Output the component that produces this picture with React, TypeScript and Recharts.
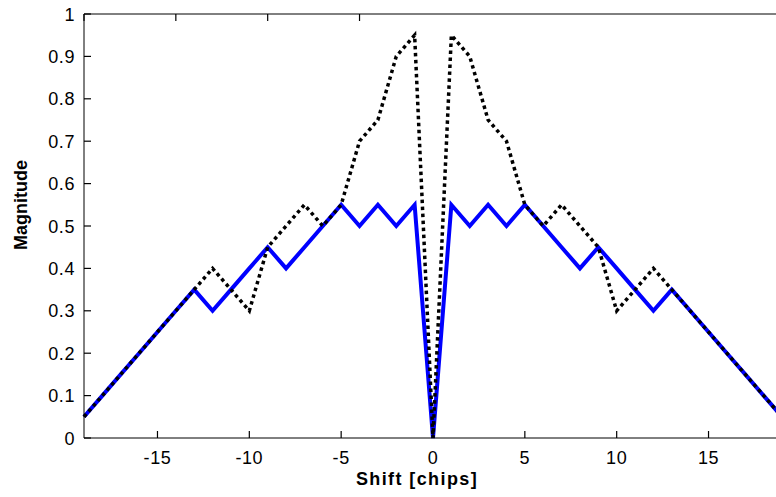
import { LineChart, Line, XAxis, YAxis } from "recharts";

const shifts = [
  -19, -18, -17, -16, -15, -14, -13, -12, -11, -10, -9, -8, -7, -6, -5, -4, -3,
  -2, -1, 0, 1, 2, 3, 4, 5, 6, 7, 8, 9, 10, 11, 12, 13, 14, 15, 16, 17, 18, 19,
];

const blueMag = [
  0.05, 0.1, 0.15, 0.2, 0.25, 0.3, 0.35, 0.3, 0.35, 0.4, 0.45, 0.4, 0.45, 0.5,
  0.55, 0.5, 0.55, 0.5, 0.55, 0, 0.55, 0.5, 0.55, 0.5, 0.55, 0.5, 0.45, 0.4,
  0.45, 0.4, 0.35, 0.3, 0.35, 0.3, 0.25, 0.2, 0.15, 0.1, 0.05,
];

const dottedMag = [
  0.05, 0.1, 0.15, 0.2, 0.25, 0.3, 0.35, 0.4, 0.35, 0.3, 0.45, 0.5, 0.55, 0.5,
  0.55, 0.7, 0.75, 0.9, 0.95, 0, 0.95, 0.9, 0.75, 0.7, 0.55, 0.5, 0.55, 0.5,
  0.45, 0.3, 0.35, 0.4, 0.35, 0.3, 0.25, 0.2, 0.15, 0.1, 0.05,
];

const xTicks = [-15, -10, -5, 0, 5, 10, 15];
const yTicks = [0, 0.1, 0.2, 0.3, 0.4, 0.5, 0.6, 0.7, 0.8, 0.9, 1];

const data = shifts.map((s, i) => ({
  shift: s,
  blue: blueMag[i],
  dotted: dottedMag[i],
}));

const font = "'Liberation Sans', Arial, sans-serif";
const TL = 7; // inward tick length

// ticks drawn by hand so they point into the plot box
function BottomTick(props: any) {
  const { x, y, payload } = props;
  return (
    <g>
      <path d={`M${x},${y}V${y - TL}`} stroke="#000" strokeWidth={1.2} fill="none" />
      <text
        x={x}
        y={y + 26}
        textAnchor="middle"
        fontFamily={font}
        fontSize={18}
        letterSpacing={0.6}
        fill="#000"
      >
        {payload.value}
      </text>
    </g>
  );
}

function LeftTick(props: any) {
  const { x, y, payload } = props;
  return (
    <g>
      <path d={`M${x},${y}H${x + TL}`} stroke="#000" strokeWidth={1.2} fill="none" />
      <text
        x={x - 9}
        y={y + 6.5}
        textAnchor="end"
        fontFamily={font}
        fontSize={18}
        letterSpacing={0.6}
        fill="#000"
      >
        {payload.value}
      </text>
    </g>
  );
}

function TopTick(props: any) {
  const { x, y } = props;
  return <path d={`M${x},${y}V${y + TL}`} stroke="#000" strokeWidth={1.2} fill="none" />;
}

function RightTick(props: any) {
  const { x, y } = props;
  return <path d={`M${x},${y}H${x - TL - 2}`} stroke="#000" strokeWidth={1.2} fill="none" />;
}

export default function App() {
  return (
    <div
      style={{
        position: "absolute",
        left: 0,
        top: 0,
        width: 776,
        height: 497,
        overflow: "hidden",
        background: "#fff",
      }}
    >
      <LineChart
        width={790}
        height={497}
        data={data}
        margin={{ top: 13, right: 7, left: 0, bottom: 0 }}
      >
        <XAxis
          xAxisId="b"
          dataKey="shift"
          type="number"
          domain={[-19, 19]}
          ticks={xTicks}
          tickLine={false}
          tickSize={0}
          tickMargin={0}
          height={59}
          stroke="#000"
          tick={(p: any) => <BottomTick {...p} />}
          label={{
            value: "Shift [chips]",
            content: () => (
              <text
                x={417}
                y={485}
                textAnchor="middle"
                fontFamily={font}
                fontWeight="bold"
                fontSize={18}
                letterSpacing={1.4}
                fill="#000"
              >
                Shift [chips]
              </text>
            ),
          }}
        />
        <XAxis
          xAxisId="t"
          orientation="top"
          type="number"
          domain={[-19, 19]}
          ticks={xTicks}
          tickLine={false}
          tickSize={0}
          tickMargin={0}
          height={1}
          tick={(p: any) => <TopTick {...p} />}
          stroke="#000"
        />
        <YAxis
          yAxisId="l"
          type="number"
          domain={[0, 1]}
          ticks={yTicks}
          tickLine={false}
          tickSize={0}
          tickMargin={0}
          width={84}
          stroke="#000"
          tick={(p: any) => <LeftTick {...p} />}
          label={{
            value: "Magnitude",
            content: () => (
              <text
                x={27}
                y={205}
                transform="rotate(-90 27 205)"
                textAnchor="middle"
                fontFamily={font}
                fontWeight="bold"
                fontSize={18}
                fill="#000"
              >
                Magnitude
              </text>
            ),
          }}
        />
        <YAxis
          yAxisId="r"
          orientation="right"
          type="number"
          domain={[0, 1]}
          ticks={yTicks}
          tickLine={false}
          tickSize={0}
          tickMargin={0}
          width={1}
          tick={(p: any) => <RightTick {...p} />}
          stroke="#000"
        />
        <Line
          xAxisId="b"
          yAxisId="l"
          dataKey="blue"
          stroke="#0000ff"
          strokeWidth={4}
          dot={false}
          type="linear"
          isAnimationActive={false}
        />
        <Line
          xAxisId="b"
          yAxisId="l"
          dataKey="dotted"
          stroke="#000"
          strokeWidth={3.5}
          strokeDasharray="3.5 3.5"
          dot={false}
          type="linear"
          isAnimationActive={false}
        />
      </LineChart>
    </div>
  );
}
